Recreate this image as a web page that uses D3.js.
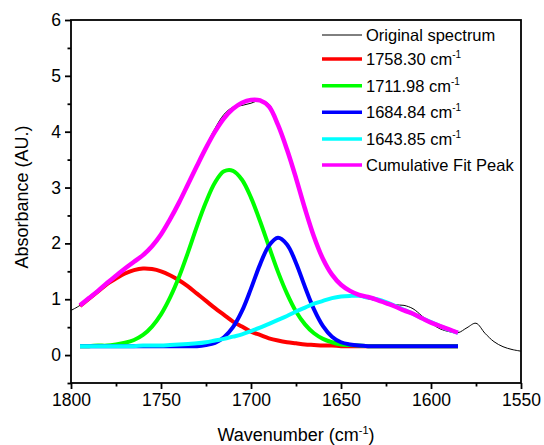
<!DOCTYPE html>
<html><head><meta charset="utf-8">
<script src="https://cdn.jsdelivr.net/npm/d3@7"></script>
<style>body{margin:0;background:#fff}svg{display:block;font-family:Arial,"Liberation Sans",sans-serif}</style>
</head><body><svg id="c" width="544" height="445"></svg>
<script>
// ---- data ----
const fitWavenumber = [1795,1790,1785,1780,1775,1770,1765,1760,1755,1750,1745,1740,1735,1730,1725,1720,1715,1710,1705,1700,1695,1690,1685,1680,1675,1670,1665,1660,1655,1650,1645,1640,1635,1630,1625,1620,1615,1610,1605,1600,1595,1590,1585];
const peak1758 = [0.88,1.01,1.14,1.27,1.37,1.46,1.52,1.55,1.54,1.50,1.43,1.34,1.23,1.10,0.97,0.84,0.72,0.60,0.51,0.42,0.36,0.30,0.26,0.23,0.21,0.19,0.18,0.17,0.17,0.16,0.16,0.16,0.16,0.16,0.16,0.16,0.16,0.16,0.16,0.16,0.16,0.16,0.16];
const peak1712 = [0.16,0.16,0.17,0.17,0.19,0.22,0.27,0.36,0.51,0.73,1.03,1.40,1.84,2.31,2.74,3.09,3.29,3.30,3.14,2.82,2.40,1.94,1.49,1.10,0.78,0.55,0.39,0.29,0.23,0.19,0.18,0.17,0.16,0.16,0.16,0.16,0.16,0.16,0.16,0.16,0.16,0.16,0.16];
const peak1685 = [0.16,0.16,0.16,0.16,0.16,0.16,0.16,0.16,0.16,0.16,0.16,0.16,0.16,0.16,0.18,0.22,0.32,0.50,0.79,1.19,1.62,1.96,2.10,1.98,1.65,1.22,0.82,0.52,0.33,0.23,0.19,0.17,0.16,0.16,0.16,0.16,0.16,0.16,0.16,0.16,0.16,0.16,0.16];
const peak1644 = [0.16,0.16,0.16,0.16,0.16,0.16,0.16,0.17,0.17,0.17,0.18,0.19,0.20,0.21,0.23,0.26,0.29,0.33,0.37,0.43,0.49,0.56,0.63,0.70,0.78,0.85,0.92,0.97,1.02,1.05,1.06,1.06,1.03,1.00,0.95,0.88,0.81,0.74,0.66,0.59,0.52,0.45,0.40];
const cumulative = [0.89,1.02,1.15,1.29,1.42,1.55,1.67,1.79,1.95,2.16,2.43,2.73,3.06,3.39,3.71,4.00,4.24,4.41,4.52,4.57,4.56,4.45,4.12,3.68,3.17,2.62,2.12,1.72,1.44,1.26,1.15,1.08,1.04,0.99,0.93,0.87,0.80,0.74,0.66,0.58,0.52,0.46,0.40];
const origWavenumber = [1800,1795,1790,1785,1780,1775,1770,1765,1760,1755,1750,1745,1740,1735,1730,1725,1720,1715,1710,1705,1700,1695,1690,1685,1680,1675,1670,1665,1660,1655,1650,1645,1640,1635,1630,1625,1620,1615,1610,1605,1600,1595,1590,1585,1580,1575,1570,1565,1560,1555,1550];
const original = [0.80,0.89,1.02,1.15,1.29,1.42,1.55,1.67,1.79,1.95,2.16,2.43,2.74,3.08,3.42,3.75,4.06,4.31,4.44,4.47,4.51,4.56,4.49,4.14,3.68,3.16,2.60,2.10,1.70,1.42,1.24,1.13,1.05,1.01,0.97,0.94,0.90,0.89,0.83,0.70,0.57,0.47,0.42,0.40,0.49,0.57,0.39,0.24,0.15,0.10,0.07];
const legendLabels = ["Original spectrum","1758.30 cm","1711.98 cm","1684.84 cm","1643.85 cm","Cumulative Fit Peak"];
const legendSup = ["","-1","-1","-1","-1",""];
const xMajor = [1800,1750,1700,1650,1600,1550];
const xMinor = [1775,1725,1675,1625,1575];
const yMajor = [0,1,2,3,4,5,6];
const yMinor = [-0.5,0.5,1.5,2.5,3.5,4.5,5.5];

// ---- drawing ----
const svg = d3.select("#c");
const x = d3.scaleLinear().domain([1800,1550]).range([71,521]);
const y = d3.scaleLinear().domain([-0.5,6]).range([383,20]);

const line = d3.line().x(d=>x(d[0])).y(d=>y(d[1])).curve(d3.curveCatmullRom.alpha(0.5));
const zipFit = arr => fitWavenumber.map((w,i)=>[w,arr[i]]);

const series = [
  {data: origWavenumber.map((w,i)=>[w,original[i]]), color:"#000000", width:1},
  {data: zipFit(peak1758), color:"#ff0000", width:4},
  {data: zipFit(peak1712), color:"#00ff00", width:4},
  {data: zipFit(peak1685), color:"#0000ff", width:4},
  {data: zipFit(peak1644), color:"#00ffff", width:4},
  {data: zipFit(cumulative), color:"#ff00ff", width:4.5}
];
svg.append("g").selectAll("path").data(series).join("path")
  .attr("d", s=>line(s.data)).attr("fill","none")
  .attr("stroke", s=>s.color).attr("stroke-width", s=>s.width);

// axes
const ax = svg.append("g").attr("transform","translate(0,383)")
  .call(d3.axisBottom(x).tickValues(xMajor).tickSize(6).tickPadding(5).tickFormat(d3.format("d")));
const axm = svg.append("g").attr("transform","translate(0,383)")
  .call(d3.axisBottom(x).tickValues(xMinor).tickSize(3.5).tickFormat(""));
const ay = svg.append("g").attr("transform","translate(71,0)")
  .call(d3.axisLeft(y).tickValues(yMajor).tickSize(6).tickPadding(4).tickFormat(d3.format("d")));
const aym = svg.append("g").attr("transform","translate(71,0)")
  .call(d3.axisLeft(y).tickValues(yMinor).tickSize(3.5).tickFormat(""));
[ax,axm,ay,aym].forEach(g=>{
  g.select(".domain").remove();
  g.selectAll(".tick line").attr("stroke","#000").attr("stroke-width",1.8);
  g.selectAll(".tick text").attr("font-size",17.5).attr("fill","#000").attr("font-family","Arial, 'Liberation Sans', sans-serif");
});
svg.append("rect").attr("x",71).attr("y",20).attr("width",450).attr("height",363)
  .attr("fill","none").attr("stroke","#000").attr("stroke-width",1.8);

// axis titles
const xt = svg.append("text").attr("x",296).attr("y",441).attr("text-anchor","middle").attr("font-size",18);
xt.append("tspan").text("Wavenumber (cm");
xt.append("tspan").attr("dy",-7).attr("font-size",11).text("-1");
xt.append("tspan").attr("dy",7).text(")");
svg.append("text").attr("transform","translate(28,197) rotate(-90)").attr("text-anchor","middle")
  .attr("font-size",18).text("Absorbance (AU.)");

// legend
const legY = [35,59,85.7,112.3,139,165];
const lg = svg.append("g");
series.forEach((s,i)=>{
  lg.append("line").attr("x1",322).attr("x2",362).attr("y1",legY[i]).attr("y2",legY[i])
    .attr("stroke",s.color).attr("stroke-width", i===0?1:3.5);
  const t = lg.append("text").attr("x",366).attr("y",legY[i]+6).attr("font-size",16.5);
  t.append("tspan").text(legendLabels[i]);
  if (legendSup[i]) t.append("tspan").attr("dy",-7).attr("font-size",10).text(legendSup[i]);
});
</script></body></html>
